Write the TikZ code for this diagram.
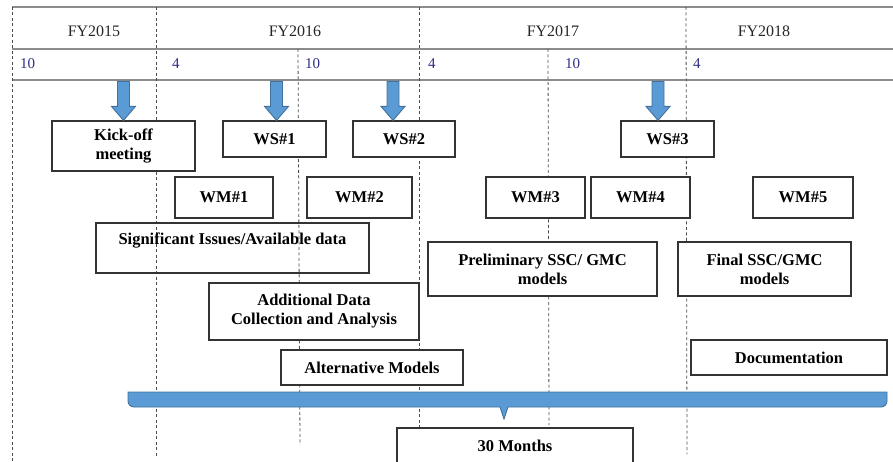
\documentclass[tikz,border=0pt]{standalone}
\usepackage{fontspec}
\setmainfont{Liberation Serif}
\definecolor{msblue}{HTML}{5B9BD5}
\definecolor{msedge}{HTML}{41719C}
\definecolor{monthnavy}{HTML}{2E2E86}

\begin{document}
\begin{tikzpicture}[
    x=1pt, y=-1pt,
    task/.style={rectangle, draw=black!80, line width=1.2pt, fill=white, align=center, font=\fontsize{16.5}{19}\selectfont\bfseries, inner sep=2pt},
    yearlabel/.style={font=\fontsize{16}{19}\selectfont, text=black!85},
    monthlabel/.style={font=\fontsize{15}{18}\selectfont, text=monthnavy, anchor=west, inner sep=0pt},
    gridline/.style={draw=black!70, dash pattern=on 3pt off 2.5pt, line width=0.8pt},
    rule/.style={draw=black!45, line width=1.6pt},
    milestone/.style={fill=msblue, draw=msedge, line width=0.9pt, line join=miter}
]
\useasboundingbox (0,0) rectangle (893,462);
\clip (0,0) rectangle (893,462);

% Grid
\draw[rule] (12,7) -- (893,7);
\draw[rule] (12,49) -- (893,49);
\draw[rule] (12,80) -- (893,80);
\draw[gridline] (12,7) -- (12,462);
\draw[gridline] (156,7) -- (156,456);
\draw[gridline] (298,49) -- (300,445);
\draw[gridline] (419,7) -- (419,430);
\draw[gridline] (548,49) -- (549,425);
\draw[gridline] (686,7) -- (687,454);

% Header
\node[yearlabel] (fy15) at (94,31) {FY2015};
\node[yearlabel] (fy16) at (295,31) {FY2016};
\node[yearlabel] (fy17) at (553,31) {FY2017};
\node[yearlabel] (fy18) at (764,31) {FY2018};

\node[monthlabel] (m1) at (20,64) {10};
\node[monthlabel] (m2) at (172,64) {4};
\node[monthlabel] (m3) at (305,64) {10};
\node[monthlabel] (m4) at (428,64) {4};
\node[monthlabel] (m5) at (565,64) {10};
\node[monthlabel] (m6) at (693,64) {4};

% Tasks
\node[task, minimum width=143, minimum height=50] (kick) at (123.5,146) {Kick-off\\meeting};
\node[task, minimum width=103, minimum height=36] (ws1) at (274.5,139) {WS\#1};
\node[task, minimum width=102, minimum height=36] (ws2) at (404,139) {WS\#2};
\node[task, minimum width=93, minimum height=36] (ws3) at (667.5,139) {WS\#3};

\node[task, minimum width=98, minimum height=41] (wm1) at (224,197.5) {WM\#1};
\node[task, minimum width=105, minimum height=41] (wm2) at (359.5,197.5) {WM\#2};
\node[task, minimum width=99, minimum height=41] (wm3) at (535.5,197.5) {WM\#3};
\node[task, minimum width=99, minimum height=41] (wm4) at (640.5,197.5) {WM\#4};
\node[task, minimum width=100, minimum height=41] (wm5) at (803,197.5) {WM\#5};

\node[task, fill=none, minimum width=273, minimum height=50] (issues) at (232.5,248) {Significant Issues/Available data\\\mbox{}};
\node[task, minimum width=229, minimum height=54] (prelim) at (542.5,269) {Preliminary SSC/ GMC\\models};
\node[task, minimum width=173, minimum height=54] (final) at (764.5,269) {Final SSC/GMC\\models};
\node[task, minimum width=210, minimum height=57] (extra) at (314,311.5) {Additional Data\\Collection and Analysis};
\node[task, minimum width=182, minimum height=35] (altmod) at (372,367.5) {Alternative Models};
\node[task, minimum width=196, minimum height=35] (docs) at (789,357.5) {Documentation};
\node[task, minimum width=236, minimum height=36] (total) at (515,446) {30 Months};

% Milestone arrows
\foreach \x/\t in {123.5/kick, 276.5/ws1, 393/ws2, 658/ws3}
    \draw[milestone] (\x,0 |- \t.north) -- ++(12,-14) -- ++(-6,0) -- ++(0,-25) -- ++(-12,0) -- ++(0,25) -- ++(-6,0) -- cycle;

% Span bar
\draw[milestone] (128,392) -- (887,392) -- (887,401) to[out=-90,in=0] (881,407) -- (508,407) -- (504,419) -- (500,407) -- (134,407) to[out=180,in=-90] (128,401) -- cycle;

\end{tikzpicture}
\end{document}
